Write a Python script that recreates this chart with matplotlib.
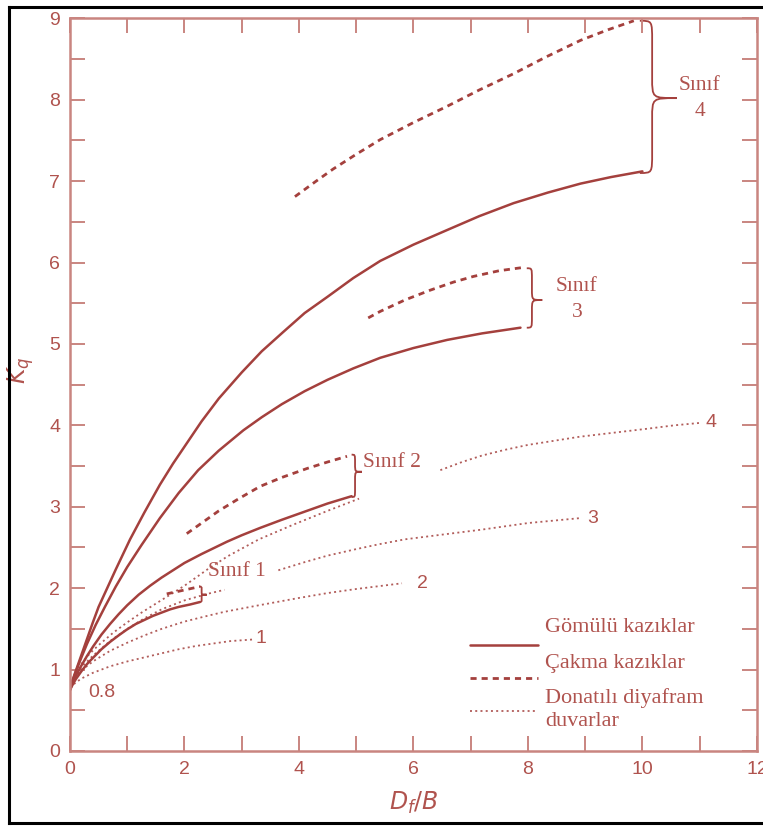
import matplotlib
matplotlib.use("Agg")
import matplotlib.pyplot as plt
from matplotlib.path import Path
from matplotlib.patches import PathPatch
from matplotlib.lines import Line2D
from matplotlib.ticker import MultipleLocator, FuncFormatter

# --- values (x = Df/B, y = Kq) ---
# bored piles (solid), one per class
solid4_x = [0, 0.05, 0.1, 0.2, 0.3, 0.4, 0.5, 0.65, 0.8, 1.05, 1.3, 1.57, 1.8, 2.05, 2.3, 2.6, 3.0, 3.35,
            3.73, 4.1, 4.5, 4.95, 5.42, 6.0, 6.59, 7.15, 7.75, 8.35, 8.92, 9.45, 10.0]
solid4_y = [0.75, 0.88, 0.98, 1.18, 1.38, 1.58, 1.77, 2.0, 2.23, 2.6, 2.93, 3.27, 3.53, 3.79, 4.05, 4.33, 4.65, 4.91,
            5.15, 5.38, 5.58, 5.81, 6.02, 6.22, 6.4, 6.57, 6.73, 6.86, 6.97, 7.05, 7.12]
solid3_x = [0, 0.05, 0.1, 0.2, 0.3, 0.45, 0.61, 0.8, 1.0, 1.25, 1.57, 1.9, 2.24, 2.6, 3.03, 3.35, 3.7, 4.1,
            4.5, 4.95, 5.42, 6.0, 6.59, 7.2, 7.87]
solid3_y = [0.75, 0.87, 0.97, 1.15, 1.32, 1.55, 1.77, 2.02, 2.26, 2.53, 2.86, 3.17, 3.45, 3.69, 3.94, 4.1, 4.26, 4.42,
            4.56, 4.7, 4.83, 4.95, 5.05, 5.13, 5.2]
solid2_x = [0, 0.05, 0.1, 0.2, 0.3, 0.41, 0.55, 0.7, 0.85, 1.0, 1.2, 1.4, 1.6, 1.8, 2.0, 2.3, 2.74, 3.0, 3.32,
            3.7, 4.1, 4.5, 4.92]
solid2_y = [0.75, 0.84, 0.92, 1.05, 1.17, 1.29, 1.43, 1.56, 1.68, 1.79, 1.92, 2.03, 2.13, 2.22, 2.31, 2.42, 2.57, 2.65,
            2.74, 2.84, 2.94, 3.04, 3.13]
solid1_x = [0, 0.05, 0.1, 0.2, 0.3, 0.41, 0.55, 0.7, 0.85, 0.99, 1.15, 1.3, 1.45, 1.6, 1.75, 1.9, 2.1, 2.27]
solid1_y = [0.75, 0.82, 0.88, 0.98, 1.07, 1.15, 1.25, 1.34, 1.42, 1.49, 1.56, 1.61, 1.66, 1.7, 1.74, 1.77, 1.8, 1.83]

# driven piles (dashed)
dash4_x = [3.93, 4.3, 4.6, 5.0, 5.42, 6.0, 6.59, 7.15, 7.75, 8.3, 8.92, 9.4, 9.85]
dash4_y = [6.81, 7.0, 7.15, 7.33, 7.51, 7.72, 7.92, 8.12, 8.32, 8.52, 8.73, 8.86, 8.97]
dash3_x = [5.21, 5.42, 5.85, 6.29, 6.7, 7.05, 7.5, 7.92]
dash3_y = [5.32, 5.4, 5.54, 5.66, 5.76, 5.83, 5.9, 5.94]
dash2_x = [2.04, 2.3, 2.6, 2.95, 3.32, 3.7, 4.14, 4.5, 4.84]
dash2_y = [2.67, 2.8, 2.95, 3.1, 3.25, 3.36, 3.47, 3.55, 3.62]
dash1_x = [1.69, 1.95, 2.27]
dash1_y = [1.93, 1.97, 2.02]

# diaphragm walls (dotted), curves 1-4, split where labels interrupt them
dot1_x = [0, 0.1, 0.2, 0.4, 0.7, 1.0, 1.3, 1.6, 1.9, 2.2, 2.5, 2.8, 3.2]
dot1_y = [0.78, 0.84, 0.89, 0.96, 1.04, 1.1, 1.15, 1.2, 1.25, 1.29, 1.32, 1.35, 1.37]
dot2_x = [0, 0.1, 0.2, 0.4, 0.7, 1.0, 1.3, 1.6, 2.0, 2.4, 2.7, 3.3, 4.0, 4.5, 5.0, 5.8]
dot2_y = [0.78, 0.9, 0.99, 1.1, 1.23, 1.33, 1.42, 1.5, 1.59, 1.66, 1.71, 1.79, 1.88, 1.94, 1.99, 2.06]
dot3a_x = [0, 0.1, 0.2, 0.4, 0.7, 1.0, 1.3, 1.6, 2.0, 2.4, 2.7]
dot3a_y = [0.78, 0.92, 1.03, 1.17, 1.35, 1.5, 1.63, 1.74, 1.85, 1.93, 1.98]
dot3b_x = [3.64, 4.1, 4.5, 5.0, 5.4, 5.85, 6.3, 6.75, 7.2, 7.6, 8.0, 8.45, 8.9]
dot3b_y = [2.22, 2.32, 2.4, 2.48, 2.54, 2.6, 2.64, 2.68, 2.72, 2.76, 2.8, 2.83, 2.86]
dot4a_x = [0, 0.1, 0.2, 0.35, 0.5, 0.75, 1.0, 1.25, 1.5, 1.75, 2.0, 2.4, 2.75, 3.3, 3.9, 4.5, 5.05]
dot4a_y = [0.78, 0.95, 1.07, 1.2, 1.3, 1.45, 1.58, 1.7, 1.81, 1.92, 2.03, 2.23, 2.39, 2.6, 2.78, 2.95, 3.1]
dot4b_x = [6.47, 6.85, 7.2, 7.6, 8.0, 8.45, 8.9, 9.5, 10.1, 10.55, 11.0]
dot4b_y = [3.45, 3.55, 3.63, 3.7, 3.76, 3.81, 3.86, 3.91, 3.96, 4.0, 4.03]

curve_labels = ["1", "2", "3", "4"]
curve_label_x = [3.34, 6.15, 9.13, 11.19]
curve_label_y = [1.38, 2.06, 2.86, 4.03]

# braces: (x of stem, bottom, top, tip x, tip y)
braces = [
    (10.17, 7.1, 8.97, 10.6, 8.02),
    (8.07, 5.2, 5.93, 8.25, 5.54),
    (4.98, 3.12, 3.64, 5.1, 3.43),
    (2.30, 1.83, 2.02, 2.39, 1.92),
]

line_c = "#a4403d"
text_c = "#b0534e"
axis_c = "#c98580"

fig = plt.figure(figsize=(7.63, 8.26), dpi=100)
ax = fig.add_axes([0.0917, 0.0908, 0.9003, 0.887])

solid_kw = dict(color=line_c, lw=1.8, ls="-", solid_capstyle="round", solid_joinstyle="round")
dash_kw = dict(color=line_c, lw=2.0, ls=(0, (2.2, 1.8)))
dot_kw = dict(color=line_c, lw=1.3, ls=(0, (1.1, 1.8)), alpha=0.85)

for xs, ys in [(solid4_x, solid4_y), (solid3_x, solid3_y), (solid2_x, solid2_y), (solid1_x, solid1_y)]:
    ax.plot(xs, ys, **solid_kw)
for xs, ys in [(dash4_x, dash4_y), (dash3_x, dash3_y), (dash2_x, dash2_y), (dash1_x, dash1_y)]:
    ax.plot(xs, ys, **dash_kw)
for xs, ys in [(dot1_x, dot1_y), (dot2_x, dot2_y), (dot3a_x, dot3a_y), (dot3b_x, dot3b_y),
               (dot4a_x, dot4a_y), (dot4b_x, dot4b_y)]:
    ax.plot(xs, ys, **dot_kw)


def brace(x0, y0, y1, tx, ty):
    c = (tx - x0) * 0.5
    r = min(0.25, (y1 - y0) * 0.18)
    verts = [(x0 - c, y1), (x0, y1), (x0, y1), (x0, y1 - r),
             (x0, ty + r),
             (x0, ty), (x0, ty), (tx, ty),
             (tx, ty), (x0, ty), (x0, ty), (x0, ty - r),
             (x0, y0 + r),
             (x0, y0), (x0, y0), (x0 - c, y0)]
    codes = [Path.MOVETO, Path.CURVE4, Path.CURVE4, Path.CURVE4,
             Path.LINETO,
             Path.CURVE4, Path.CURVE4, Path.CURVE4,
             Path.MOVETO, Path.CURVE4, Path.CURVE4, Path.CURVE4,
             Path.LINETO,
             Path.CURVE4, Path.CURVE4, Path.CURVE4]
    ax.add_patch(PathPatch(Path(verts, codes), fill=False, ec=line_c, lw=1.3))


for b in braces:
    brace(*b)

serif = "Liberation Serif"
sfs = 15.5
ax.text(11.0, 8.18, "Sınıf", family=serif, fontsize=sfs, color=text_c, ha="center", va="center")
ax.text(11.0, 7.85, "4", family=serif, fontsize=sfs, color=text_c, ha="center", va="center")
ax.text(8.85, 5.70, "Sınıf", family=serif, fontsize=sfs, color=text_c, ha="center", va="center")
ax.text(8.87, 5.39, "3", family=serif, fontsize=sfs, color=text_c, ha="center", va="center")
ax.text(5.12, 3.54, "Sınıf 2", family=serif, fontsize=sfs, color=text_c, ha="left", va="center")
ax.text(2.41, 2.21, "Sınıf 1", family=serif, fontsize=sfs, color=text_c, ha="left", va="center")

for lab, lx, ly in zip(curve_labels, curve_label_x, curve_label_y):
    ax.text(lx, ly, lab, fontsize=14, color=text_c, ha="center", va="center", family="Liberation Sans")
ax.text(0.55, 0.72, "0.8", fontsize=14, color=text_c, ha="center", va="center", family="Liberation Sans")

# legend, drawn by hand: key line under each label
keys = [(0.144, solid_kw), (0.100, dash_kw), (0.054, dot_kw)]
for ky, kw in keys:
    ax.add_line(Line2D([0.583, 0.682], [ky, ky], transform=ax.transAxes, **kw))
leg_txt = [("Gömülü kazıklar", 0.169), ("Çakma kazıklar", 0.120),
           ("Donatılı diyafram", 0.072), ("duvarlar", 0.040)]
for t, ty in leg_txt:
    ax.text(0.692, ty, t, transform=ax.transAxes, family=serif, fontsize=16,
            color=text_c, ha="left", va="center")

ax.set_xlim(0, 12)
ax.set_ylim(0, 9)
ax.xaxis.set_major_locator(MultipleLocator(1))
ax.yaxis.set_major_locator(MultipleLocator(0.5))
ax.xaxis.set_major_formatter(FuncFormatter(lambda v, _: f"{int(v)}" if int(round(v)) % 2 == 0 else ""))
ax.yaxis.set_major_formatter(FuncFormatter(lambda v, _: f"{int(v)}" if float(v).is_integer() else ""))
ax.tick_params(direction="in", top=True, right=True, length=11, width=1.4,
               color=axis_c, labelcolor=text_c, labelsize=14, pad=7)
for lab in ax.get_xticklabels() + ax.get_yticklabels():
    lab.set_family("Liberation Sans")
for s in ax.spines.values():
    s.set_color(axis_c)
    s.set_linewidth(1.8)

plt.rcParams["mathtext.fontset"] = "stix"
ax.set_xlabel(r"$D_f/B$", fontsize=17, color=text_c, labelpad=9)
ax.set_ylabel(r"$K_q$", fontsize=17, color=text_c)
ax.yaxis.set_label_coords(-0.05, 0.52)

# black frame around the picture
for xs, ys in [([0.012, 0.012], [0.004, 0.992]), ([0.012, 1.0], [0.992, 0.992]), ([0.012, 1.0], [0.004, 0.004])]:
    fig.add_artist(Line2D(xs, ys, color="black", lw=2.2, transform=fig.transFigure))

fig.savefig("out.png", dpi=100)
